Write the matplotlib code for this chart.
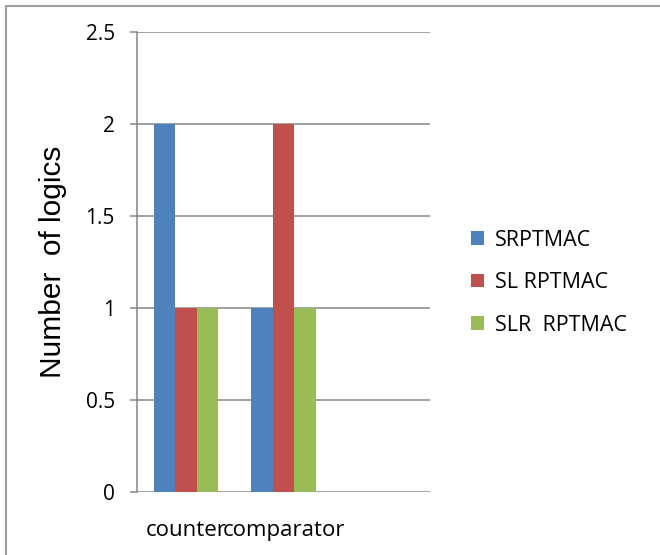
import numpy as np
import matplotlib.pyplot as plt
from matplotlib.patches import Rectangle

categories = ['counter', 'comparator', '']
series = ['SRPTMAC', 'SL RPTMAC', 'SLR  RPTMAC']
srptmac = [2, 1, 0]
sl_rptmac = [1, 2, 0]
slr_rptmac = [1, 1, 0]
colors = ['#4F81BD', '#C0504D', '#9BBB59']
yticks = [0, 0.5, 1, 1.5, 2, 2.5]

fig = plt.figure(figsize=(6.6, 5.55), dpi=100)
ax = fig.add_axes([0.2076, 0.1135, 0.4439, 0.8288])

x = np.arange(len(categories))
w = 0.22
for i, (vals, name) in enumerate(zip([srptmac, sl_rptmac, slr_rptmac], series)):
    ax.bar(x + (i - 1) * w, vals, width=w, color=colors[i], label=name, zorder=3)

ax.set_xlim(-0.5, len(categories) - 0.5)
ax.set_ylim(0, 2.5)
ax.set_yticks(yticks)
ax.set_yticklabels(['0', '0.5', '1', '1.5', '2', '2.5'], fontfamily='Open Sans', fontsize=15)
ax.set_xticks(x)
ax.set_xticklabels(categories, fontfamily='Open Sans', fontsize=16)
ax.tick_params(axis='x', length=0, pad=20)
ax.tick_params(axis='y', length=5, color='#868686', width=1.1, pad=11)
ax.yaxis.grid(True, color='#868686', linewidth=1.1, zorder=1)

for s in ['top', 'right', 'bottom']:
    ax.spines[s].set_visible(False)
ax.spines['left'].set_color('#868686')
ax.spines['left'].set_linewidth(1.1)

ax.set_ylabel('Number  of logics', fontfamily='Liberation Sans', fontsize=21.5, labelpad=13)

ax.legend(loc='center left', bbox_to_anchor=(1.075, 0.455), frameon=False,
          prop={'family': 'Open Sans', 'size': 15.5}, handlelength=0.6, handleheight=0.6,
          handletextpad=0.5, labelspacing=1.0)

fig.patches.append(Rectangle((6 / 660, -0.1), 1.2, 1 - 6 / 555 + 0.1,
                             transform=fig.transFigure, fill=False,
                             edgecolor='#a0a0a0', linewidth=1.5))

fig.savefig('out.png', dpi=100)
